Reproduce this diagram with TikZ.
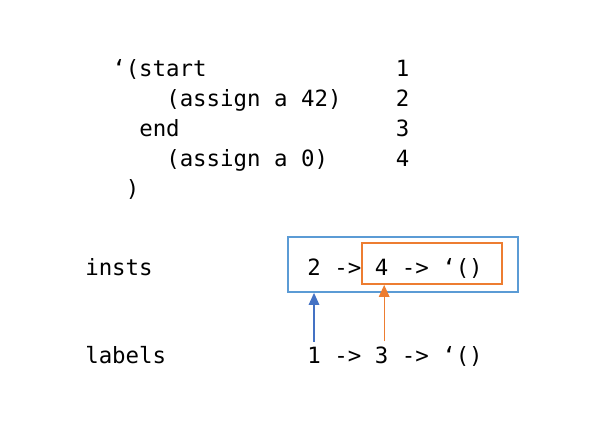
\documentclass[tikz,border=0pt]{standalone}
\usepackage{fontspec}
\setmonofont{DejaVu Sans Mono}
\usetikzlibrary{arrows.meta}
\definecolor{boxblue}{RGB}{91,155,213}
\definecolor{boxorange}{RGB}{237,125,49}
\definecolor{arrowblue}{RGB}{68,114,196}
\tikzset{
  code/.style={inner sep=0pt, anchor=base west, font=\ttfamily\fontsize{16.8}{20}\selectfont},
  listbox/.style={draw, line width=1.4pt, inner sep=0pt},
  link/.style={line width=0.8pt, shorten <=3.5pt, -{Triangle[length=9pt,width=8pt]}}
}
\begin{document}
\begin{tikzpicture}[x=0.75pt,y=-0.75pt]
\useasboundingbox (0,0) rectangle (606,429);
\node (line1) [code] at (112,76) {‘(start};
\node (line2) [code] at (166,106) {(assign a 42)};
\node (line3) [code] at (139,136) {end};
\node (line4) [code] at (166,166) {(assign a 0)};
\node (line5) [code] at (125.5,196) {)};
\node (num1) [code] at (395.5,76) {1};
\node (num2) [code] at (395.5,106) {2};
\node (num3) [code] at (395.5,136) {3};
\node (num4) [code] at (395.5,166) {4};

\node (insts) [code] at (85,275) {insts};
\node (labels) [code] at (85,363) {labels};

\node (inst2) [code] at (307,275) {2};
\node (instarr1) [code] at (334,275) {->};
\node (inst4) [code] at (374.5,275) {4};
\node (instarr2) [code] at (401.5,275) {->};
\node (instnil) [code] at (442,275) {‘()};

\node (lab1) [code] at (307,363) {1};
\node (labarr1) [code] at (334,363) {->};
\node (lab3) [code] at (374.5,363) {3};
\node (labarr2) [code] at (401.5,363) {->};
\node (labnil) [code] at (442,363) {‘()};

\node (instbox) [listbox, boxblue, minimum width=172.5pt, minimum height=41.25pt] at (403,264.5) {};
\node (tailbox) [listbox, boxorange, minimum width=105pt, minimum height=30.75pt] at (432,263.5) {};

\draw [link, arrowblue] (lab1.north) -- (lab1.north |- instbox.south);
\draw [link, boxorange] ([xshift=2pt]lab3.north) -- ([xshift=2pt]lab3.north |- tailbox.south);
\end{tikzpicture}
\end{document}
